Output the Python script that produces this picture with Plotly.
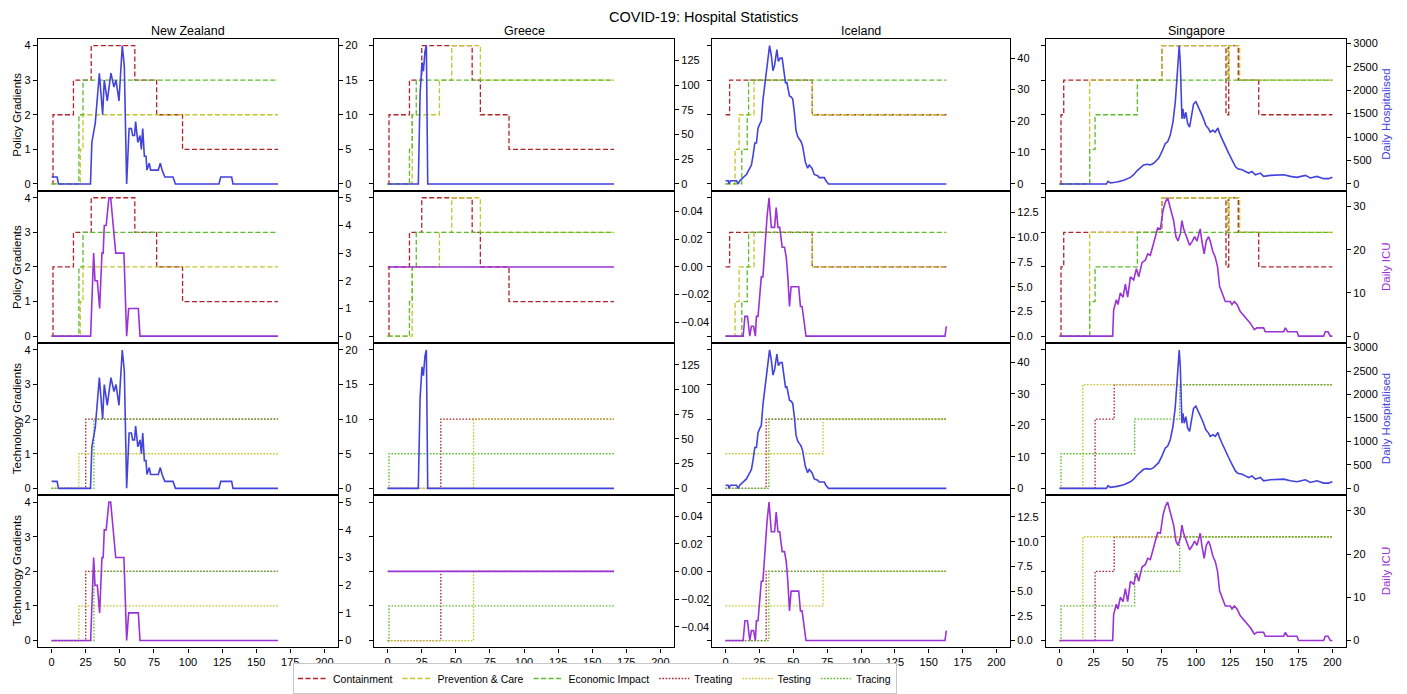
import plotly.graph_objects as go
from plotly.subplots import make_subplots

# ---------------- DATA ----------------
countries = ["New Zealand", "Greece", "Iceland", "Singapore"]
last_day = [166, 166, 163, 200]
x_ticks = [0, 25, 50, 75, 100, 125, 150, 175, 200]
gradient_ticks = [0, 1, 2, 3, 4]

# Policy gradients: (change day, new level)
nz_containment = [(0, 0), (1, 2), (16, 3), (29, 4), (61, 3), (77, 2), (96, 1)]
nz_prevention = [(0, 0), (21, 1), (23, 2)]
nz_economic = [(0, 0), (20, 2), (23, 3)]
gr_containment = [(0, 0), (1, 2), (16, 3), (25, 4), (62, 3), (68, 2), (89, 1)]
gr_prevention = [(0, 0), (18, 2), (38, 3), (47, 4), (68, 3)]
gr_economic = [(0, 0), (16, 1), (18, 2), (21, 3)]
is_containment = [(0, 2), (3, 3), (64, 2)]
is_prevention = [(0, 0), (7, 1), (10, 2), (21, 3), (64, 2)]
is_economic = [(0, 0), (12, 1), (16, 2), (17, 3)]
sg_containment = [(0, 0), (1, 2), (3, 3), (75, 4), (122, 2), (124, 4), (131, 3), (146, 2)]
sg_prevention = [(0, 0), (22, 3), (75, 4), (123, 3), (124, 4), (132, 3)]
sg_economic = [(0, 0), (22, 1), (26, 2), (57, 3)]

# Technology gradients: (change day, new level)
nz_treating = [(0, 0), (25, 2)]
nz_testing = [(0, 0), (20, 1)]
nz_tracing = [(0, 0), (31, 2)]
gr_treating = [(0, 0), (39, 2)]
gr_testing = [(0, 0), (63, 2)]
gr_tracing = [(0, 0), (1, 1)]
is_treating = [(0, 0), (30, 2)]
is_testing = [(0, 1), (72, 2)]
is_tracing = [(0, 0), (32, 2)]
sg_treating = [(0, 0), (26, 2), (40, 3)]
sg_testing = [(0, 0), (17, 3)]
sg_tracing = [(0, 0), (1, 1), (55, 2), (88, 3)]

# Daily hospitalised: (day, count)
nz_hospitalised = [(0, 1), (4, 1), (5, 0), (28.5, 0), (29.5, 6), (32, 8.8), (35, 16), (37.4, 10),
                   (38.6, 15), (40.8, 12), (43.5, 16), (45.7, 14), (47.2, 15), (49.4, 12), (51.8, 20),
                   (53.3, 17), (55, 0), (56.8, 8), (58.5, 8), (59.4, 7), (60.8, 7), (61.6, 9),
                   (63.2, 6), (64.8, 7), (65.8, 5), (66.8, 8), (68, 4), (69.2, 4), (69.9, 2),
                   (71.6, 3), (72.6, 2), (78.2, 2), (79.7, 3), (81, 2), (83, 1), (89, 1), (90.8, 0),
                   (122.7, 0), (124, 1), (132, 1), (133, 0), (166, 0)]
gr_hospitalised = [(0, 0), (22.5, 0), (23.8, 91), (25.2, 123), (26.2, 114), (27.4, 134),
                   (28.4, 140), (29.4, 0), (166, 0)]
is_hospitalised = [(0, 1), (2, 1), (2.5, 0), (3.7, 1), (8.1, 1), (9.3, 0), (10.5, 1), (13, 2),
                   (15.4, 3), (17.9, 5), (19.1, 6), (20.3, 9), (21.6, 13), (22.8, 13), (24, 17.7),
                   (25.2, 19), (26.4, 20), (27.6, 26.6), (28.9, 31), (30.1, 36.8), (31.3, 41),
                   (32.5, 44), (33.8, 40.8), (35, 36), (36.2, 37.7), (37.9, 42.7), (39, 39),
                   (40.4, 40), (41.8, 40), (42.8, 36), (44.3, 32), (45.2, 32.4), (46, 31),
                   (47.2, 28), (48.4, 27.7), (49.6, 27), (50.9, 22.4), (52, 17), (53.3, 15),
                   (55.7, 13.5), (56.9, 12), (58.9, 7), (60.6, 5), (61.8, 6), (63.8, 5), (65.5, 3),
                   (68, 2.6), (69.2, 2), (72.9, 2), (74.1, 1), (76, 0), (163, 0)]
sg_hospitalised = [(0, 0), (34.3, 0), (35.5, 56), (37.2, 20), (42.1, 42), (47, 77), (51.9, 140),
                   (54.3, 196), (56.7, 280), (59.2, 350), (61.6, 406), (64, 420), (66.5, 406),
                   (68.9, 441), (72.6, 547), (75, 687), (77.5, 862), (79.2, 897), (81.1, 1037),
                   (83.1, 1318), (84.8, 1738), (86, 2229), (87, 2650), (87.7, 2950), (88.5, 2579),
                   (89.2, 1668), (89.7, 1388), (90.4, 1598), (91.4, 1388), (92.6, 1528),
                   (93.9, 1283), (95.3, 1213), (97, 1528), (98.2, 1703), (99.9, 1752),
                   (101.4, 1668), (103.1, 1563), (104.3, 1472), (105.5, 1388), (107.2, 1248),
                   (109.2, 1178), (110.4, 1107), (112.4, 1143), (114.1, 1107), (116.1, 1192),
                   (117.1, 1093), (119, 967), (121.5, 792), (124, 652), (126.4, 512), (128.9, 371),
                   (130.6, 322), (133.8, 301), (136.2, 266), (138.6, 231), (141.1, 266),
                   (143.5, 196), (147.2, 231), (149.6, 161), (154.5, 182), (159.4, 196),
                   (164.3, 196), (169.2, 161), (174, 140), (180.2, 182), (183.8, 126),
                   (188.7, 161), (193.6, 112), (197.2, 112), (200, 140)]

# Daily ICU: (day, count)
nz_icu = [(0, 0), (28.6, 0), (30.8, 3), (31.8, 2), (33.5, 2), (35.2, 1), (36.9, 3), (37.8, 3),
          (38.6, 4), (40, 4), (42, 5), (43.3, 5), (47, 3), (53, 3), (55, 0), (56.5, 1), (63.6, 1),
          (64.8, 0), (166, 0)]
gr_icu = [(0, 0), (166, 0)]
is_icu = [(0, 0), (13, 0), (14.3, 2), (16.2, 2), (17.9, 0), (19.1, 1), (20.7, 1), (22, 0),
          (22.8, 2), (24, 2), (25.2, 4), (26.4, 6), (27.6, 6), (28.9, 9), (30.6, 12), (32.1, 14),
          (33.8, 11), (36.2, 11), (37.4, 13), (38.7, 11), (40, 11), (41.8, 9), (43.5, 9),
          (44.8, 8), (46, 6), (47.2, 3), (48.4, 5), (54, 5), (55.3, 3), (56.5, 3), (58.2, 1),
          (59.4, 0), (162, 0), (163, 1)]
sg_icu = [(0, 0), (38.9, 0), (39.6, 6), (41.6, 8.4), (42.8, 7.3), (44.5, 10), (46.5, 9),
          (48.2, 12), (49.9, 9), (51.9, 13.7), (54.3, 13), (56.3, 15.6), (58, 13.7), (60.4, 17),
          (62.9, 17.6), (64.6, 19), (66.5, 18.7), (68.5, 21.4), (70.2, 23), (71.9, 25),
          (73.9, 24.8), (75.8, 29), (77.5, 31), (79.2, 32), (81.1, 29.8), (83.6, 26.7),
          (85.3, 23), (86.8, 22), (88.5, 23.7), (89.7, 26.7), (90.9, 24.8), (92.9, 23),
          (95.3, 21), (97, 21.8), (99, 23), (100.7, 22), (101.9, 23.7), (103.1, 24.8),
          (104.3, 22), (106, 19), (107.5, 22), (109.2, 23), (110.4, 22), (112.4, 19.5),
          (114.1, 18.3), (115.8, 16), (117.3, 11.5), (119, 10), (121.5, 8), (125.1, 8),
          (126.4, 7.3), (128.1, 8), (130.1, 7.3), (132.5, 5.7), (136.2, 4.2), (139.8, 3),
          (142.8, 1.5), (144.7, 1.9), (149.6, 1.9), (150.8, 1), (164.3, 1), (165.5, 1.9),
          (167.2, 1), (174, 1), (175.3, 0), (193.6, 0), (194.8, 1), (196.8, 1), (198.5, 0),
          (200, 0)]

hosp_ticks = [[0, 5, 10, 15, 20], [0, 25, 50, 75, 100, 125], [0, 10, 20, 30, 40],
              [0, 500, 1000, 1500, 2000, 2500, 3000]]
icu_ticks = [[0, 1, 2, 3, 4, 5], [-0.04, -0.02, 0.0, 0.02, 0.04], [0, 2.5, 5, 7.5, 10, 12.5],
             [0, 10, 20, 30]]
icu_tickformat = ["d", ".2f", ".1f", "d"]

policy_names = ["Containment", "Prevention & Care", "Economic Impact"]
tech_names = ["Treating", "Testing", "Tracing"]

policy_data = [[nz_containment, nz_prevention, nz_economic],
               [gr_containment, gr_prevention, gr_economic],
               [is_containment, is_prevention, is_economic],
               [sg_containment, sg_prevention, sg_economic]]
tech_data = [[nz_treating, nz_testing, nz_tracing],
             [gr_treating, gr_testing, gr_tracing],
             [is_treating, is_testing, is_tracing],
             [sg_treating, sg_testing, sg_tracing]]
hosp_data = [nz_hospitalised, gr_hospitalised, is_hospitalised, sg_hospitalised]
icu_data = [nz_icu, gr_icu, is_icu, sg_icu]

# ---------------- STYLE ----------------
WIN_W, WIN_H = 1407, 694
OFF = 8  # default page body margin
W, H = WIN_W - OFF, WIN_H - OFF
FONT = "Liberation Sans, Arial, Helvetica, sans-serif"
C_RED = "#b0232a"
C_OLIVE = "#c4c42c"
C_GREEN = "#5cbc2c"
C_HOSP = "#4242dc"
C_ICU = "#9b32d6"
grad_colors = [C_RED, C_OLIVE, C_GREEN]
DASH = "5px,2.5px"
DOT = "1.6px,1.6px"

# window-pixel layout
col_px = [(38, 338), (374, 674), (712, 1010), (1046, 1346)]
row_px = [(39, 193), (193, 347), (347, 501), (501, 655)]


def px_x(v):
    return (v - OFF) / W


def px_y(v):
    return 1 - (v - OFF) / H


fig = make_subplots(rows=4, cols=4,
                    specs=[[{"secondary_y": True} for _ in range(4)] for _ in range(4)],
                    horizontal_spacing=0.02, vertical_spacing=0.0)


def unzip(pairs):
    return [p[0] for p in pairs], [p[1] for p in pairs]


def steps(pairs, end):
    xs, ys = unzip(pairs)
    return xs + [end], ys + [ys[-1]]


legend_done = set()
tick_font = dict(size=11, color="black", family=FONT)

for r in range(4):
    for c in range(4):
        row, col = r + 1, c + 1
        is_policy = r in (0, 1)
        is_hosp = r in (0, 2)
        names = policy_names if is_policy else tech_names
        series = policy_data[c] if is_policy else tech_data[c]
        dash = DASH if is_policy else DOT
        for k in range(3):
            xs, ys = steps(series[k], last_day[c])
            show = names[k] not in legend_done
            legend_done.add(names[k])
            fig.add_trace(go.Scatter(
                x=xs, y=ys, mode="lines", line_shape="hv", name=names[k],
                legendgroup=names[k], showlegend=show,
                line=dict(color=grad_colors[k], width=1.3, dash=dash)),
                row=row, col=col, secondary_y=False)
        pairs = hosp_data[c] if is_hosp else icu_data[c]
        xs, ys = unzip(pairs)
        fig.add_trace(go.Scatter(
            x=xs, y=ys, mode="lines", showlegend=False,
            name="Daily Hospitalised" if is_hosp else "Daily ICU",
            line=dict(color=C_HOSP if is_hosp else C_ICU, width=1.6)),
            row=row, col=col, secondary_y=True)

        x0, x1 = col_px[c]
        y0, y1 = row_px[r]
        fig.update_xaxes(domain=[px_x(x0), px_x(x1)], range=[-10, 210], tickvals=x_ticks,
                         showticklabels=(r == 3), ticks="outside" if r == 3 else "",
                         ticklen=4, tickcolor="black", showline=True, linecolor="black",
                         linewidth=1.2, mirror=True, showgrid=False, zeroline=False,
                         automargin=False, tickfont=tick_font, row=row, col=col)
        fig.update_yaxes(domain=[px_y(y1), px_y(y0)], range=[-0.2, 4.2],
                         tickvals=gradient_ticks, showticklabels=(c == 0), ticks="outside",
                         ticklen=4, tickcolor="black", showline=True, linecolor="black",
                         linewidth=1.2, mirror=True, showgrid=False, zeroline=False,
                         automargin=False, tickfont=tick_font,
                         row=row, col=col, secondary_y=False)
        m = max(ys)
        if m > 0:
            rng = [-0.05 * m, 1.05 * m]
        else:
            rng = [-0.055, 0.055]
        tv = hosp_ticks[c] if is_hosp else icu_ticks[c]
        tf = "d" if is_hosp else icu_tickformat[c]
        fig.update_yaxes(range=rng, tickvals=tv, tickformat=tf, ticks="outside", ticklen=4,
                         tickcolor="black", showline=True, linecolor="black", linewidth=1.2,
                         showgrid=False, zeroline=False, automargin=False, tickfont=tick_font,
                         row=row, col=col, secondary_y=True)

annotations = []
annotations.append(dict(text="COVID-19: Hospital Statistics", x=px_x(703), y=px_y(17),
                        xref="paper", yref="paper", showarrow=False, xanchor="center",
                        yanchor="middle", font=dict(size=14.5, color="black", family=FONT)))
for c, name in enumerate(countries):
    x0, x1 = col_px[c]
    annotations.append(dict(text=name, x=px_x((x0 + x1) / 2), y=px_y(31), xref="paper",
                            yref="paper", showarrow=False, xanchor="center", yanchor="middle",
                            font=dict(size=12.5, color="black", family=FONT)))
left_labels = ["Policy Gradients", "Policy Gradients", "Technology Gradients", "Technology Gradients"]
right_labels = ["Daily Hospitalised", "Daily ICU", "Daily Hospitalised", "Daily ICU"]
for r in range(4):
    y0, y1 = row_px[r]
    yc = px_y((y0 + y1) / 2)
    annotations.append(dict(text=left_labels[r], x=px_x(17), y=yc, xref="paper", yref="paper",
                            showarrow=False, textangle=-90, xanchor="center", yanchor="middle",
                            font=dict(size=11.5, color="black", family=FONT)))
    annotations.append(dict(text=right_labels[r], x=px_x(1386), y=yc, xref="paper",
                            yref="paper", showarrow=False, textangle=-90, xanchor="center",
                            yanchor="middle",
                            font=dict(size=11.5, color=C_HOSP if r in (0, 2) else C_ICU,
                                      family=FONT)))

fig.update_layout(
    template="none",
    width=W, height=H, autosize=False,
    margin=dict(l=0, r=0, t=0, b=0, pad=0),
    paper_bgcolor="white", plot_bgcolor="white",
    font=dict(family=FONT, color="black"),
    annotations=annotations,
    legend=dict(orientation="h", x=px_x(595), xanchor="center", y=px_y(671), yanchor="top",
                bordercolor="#c8c8c8", borderwidth=1, bgcolor="white",
                font=dict(size=10.5, color="black", family=FONT),
                itemwidth=30, tracegroupgap=0),
)

fig.write_html("out.html")
